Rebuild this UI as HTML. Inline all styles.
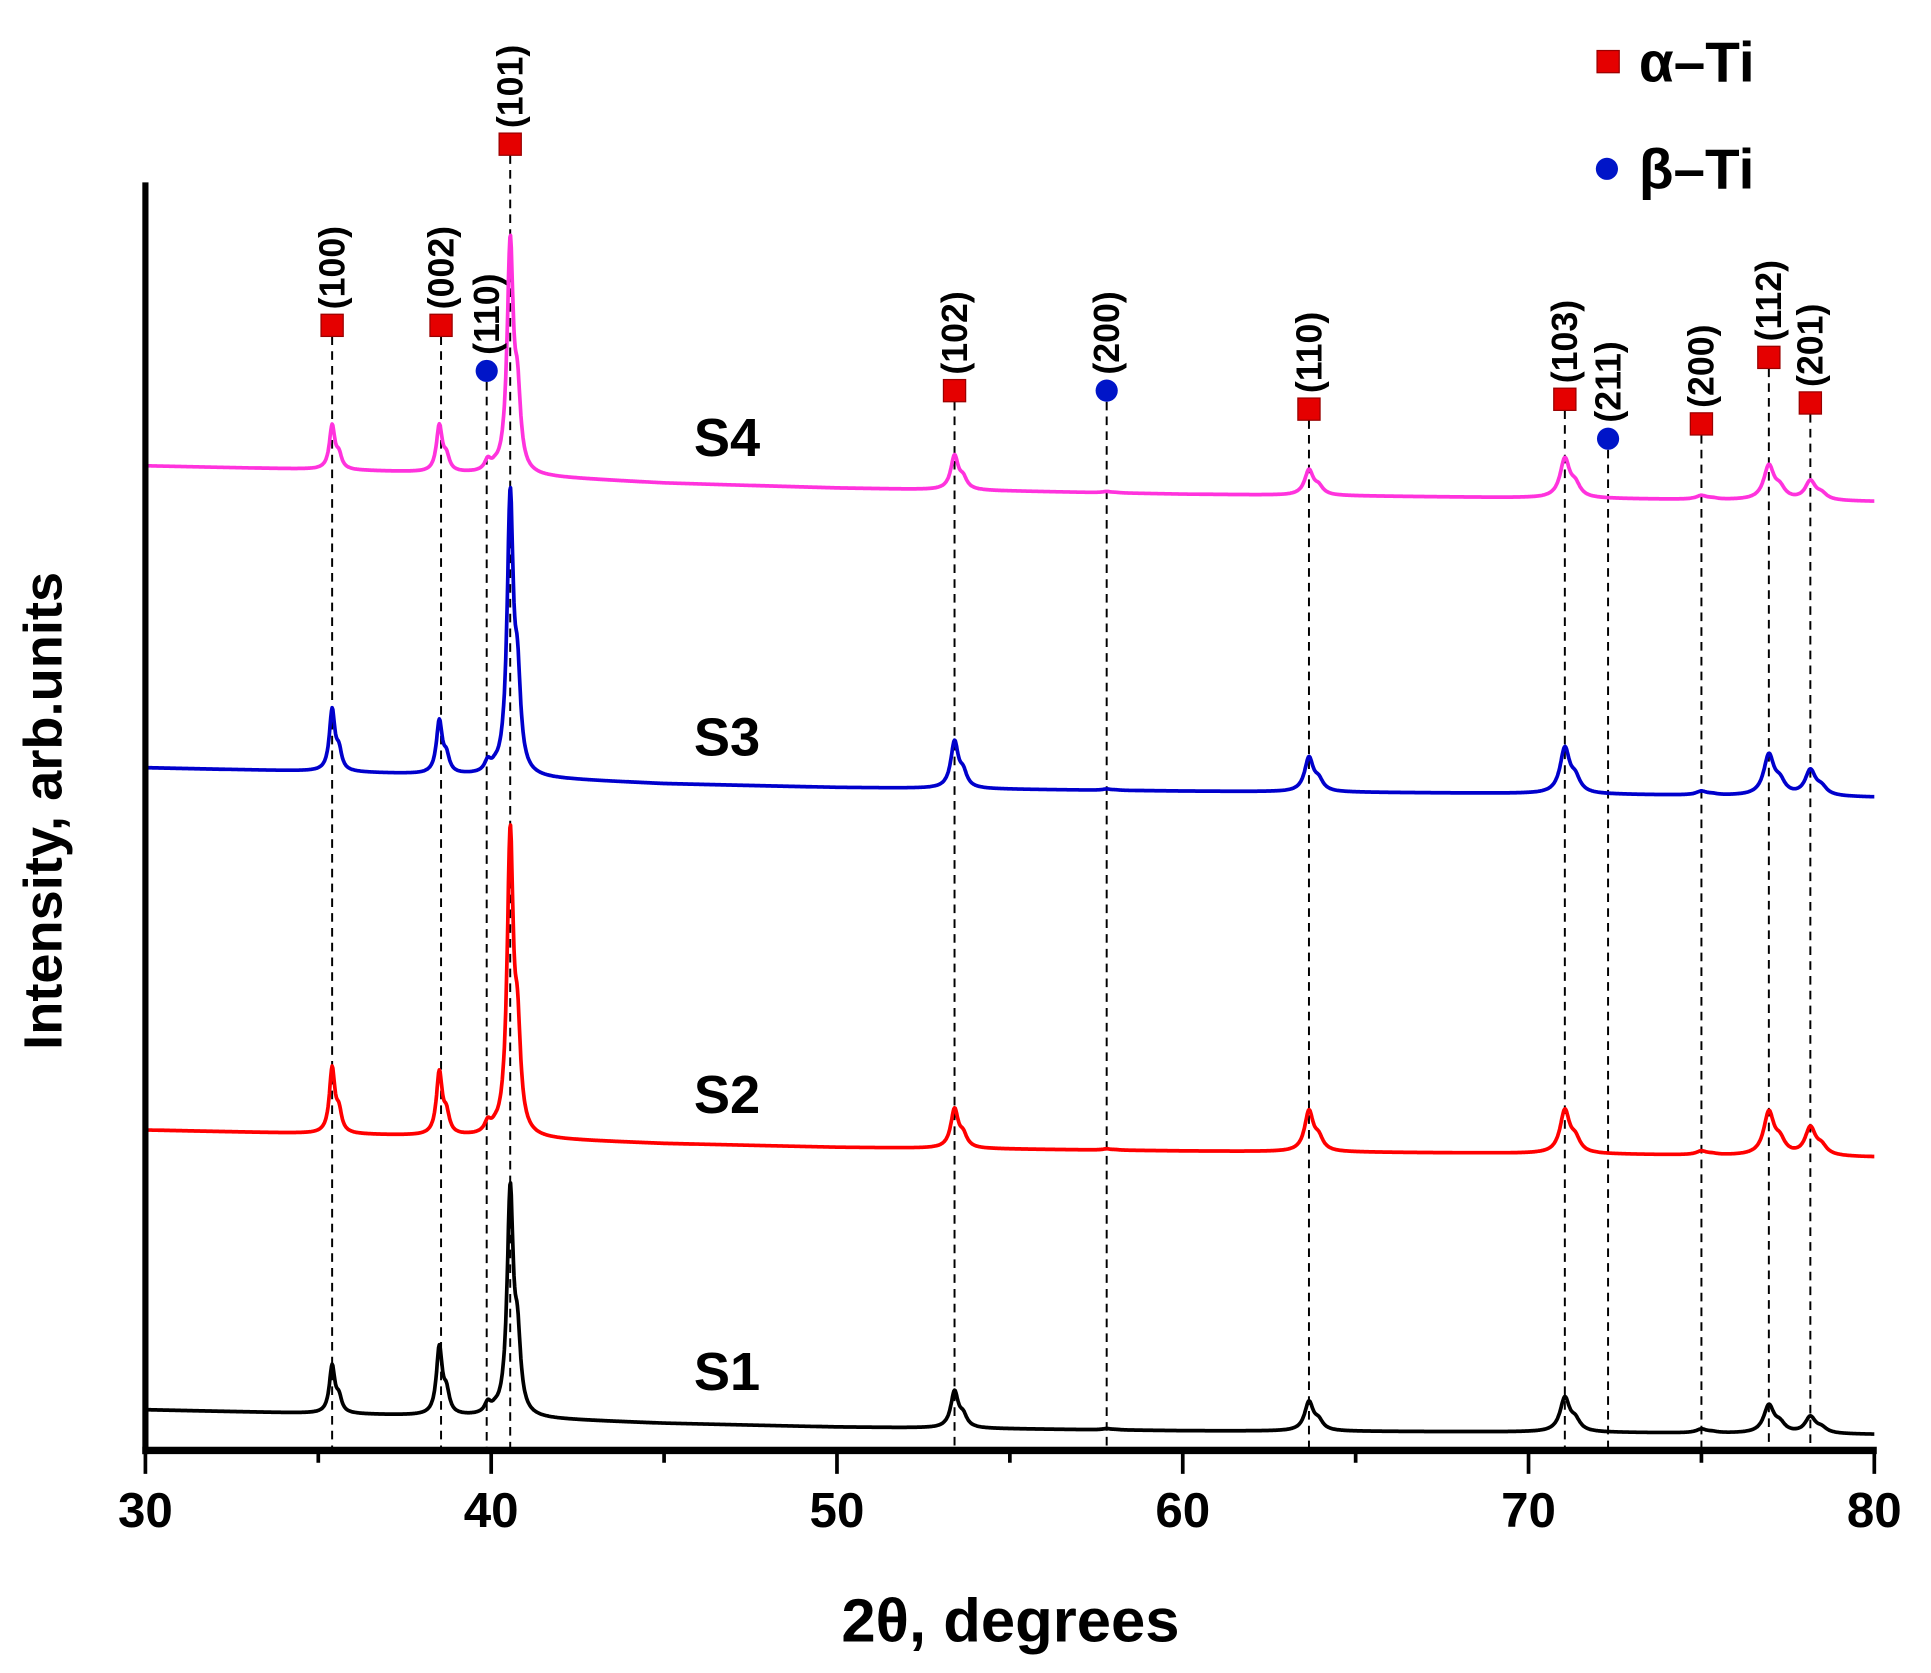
<!DOCTYPE html>
<html><head><meta charset="utf-8"><style>
html,body{margin:0;padding:0;background:#fff;}
svg{display:block;font-family:"Liberation Sans",sans-serif;font-weight:bold;}
</style></head><body>
<svg id="chart" width="1931" height="1673" viewBox="0 0 1567 1357.6" preserveAspectRatio="none" xmlns="http://www.w3.org/2000/svg">
<g id="refs"></g>
<g id="series"></g>
<g id="axes"></g>
<g id="marks"></g>
<text x="820" y="1332" font-size="50" text-anchor="middle">2θ, degrees</text>
<text transform="translate(50,658) rotate(-90)" font-size="44" text-anchor="middle">Intensity, arb.units</text>
<g>
<rect x="1296" y="41" width="18" height="18" fill="#e50000" stroke="#900" stroke-width="1"/>
<text x="1330" y="66" font-size="46">α–Ti</text>
<circle cx="1304" cy="137" r="9" fill="#0015c8"/>
<text x="1330" y="153" font-size="46">β–Ti</text>
</g>
</svg>
<script>
// ---- data ----
const peakPos   = [35.4, 38.5, 39.9, 40.55, 53.4, 57.8, 63.65, 71.05, 75.0, 76.95, 78.15];
const s1Heights = [38, 54, 8, 180, 29, 1, 23, 27, 3, 22, 13];
const s2Heights = [52, 50, 8, 240, 31, 1, 32, 34, 3, 34, 22];
const s3Heights = [49, 42, 8, 222, 37, 1, 27, 36, 3, 32, 20];
const s4Heights = [35, 37, 8, 184, 27, 1, 20, 31, 3, 27, 15];
const baseX     = [30, 35, 40, 45, 50, 60, 70, 80];
const s1Base    = [33, 30, 27, 22, 19, 16, 15, 13];
const s2Base    = [260, 257, 254, 249, 246, 243, 241, 238];
const s3Base    = [554, 551, 547, 541, 538, 535, 533, 530];
const s4Base    = [799, 796, 792, 785, 781, 776, 773, 770];
const seriesNames = ["S1", "S2", "S3", "S4"];
const seriesColors = ["#000000", "#ff0000", "#0000cc", "#ff33dd"];
const seriesLabelI = [65, 290, 580, 823];
const xTicks = [30, 40, 50, 60, 70, 80];
const xMinorTicks = [35, 45, 55, 65, 75];
const markerPos   = [35.4, 38.55, 39.87, 40.55, 53.4, 57.8, 63.65, 71.05, 72.3, 75.0, 76.95, 78.15];
const markerType  = ["a","a","b","a","a","b","a","a","b","a","a","a"];
const markerHkl   = ["(100)","(002)","(110)","(101)","(102)","(200)","(110)","(103)","(211)","(200)","(112)","(201)"];
const markerI     = [913, 913, 876, 1060, 860, 860, 845, 853, 821, 833, 887, 850];

const NS = "http://www.w3.org/2000/svg";
const X0 = 118, X1 = 1521, Y0 = 1177;
const xs = d => X0 + (d - 30) / 50 * (X1 - X0);
const ys = i => Y0 - i;
function mk(tag, attrs, parent){const e=document.createElementNS(NS,tag);for(const k in attrs)e.setAttribute(k,attrs[k]);parent.appendChild(e);return e;}
function interp(x, xa, ya){for(let i=0;i<xa.length-1;i++){if(x<=xa[i+1]){const t=(x-xa[i])/(xa[i+1]-xa[i]);return ya[i]+t*(ya[i+1]-ya[i]);}}return ya[ya.length-1];}
function intensity(d, heights, base){
  let v = interp(d, baseX, base);
  for(let k=0;k<peakPos.length;k++){
    const g = 0.085 + (peakPos[k]-30)*0.002;
    const dx1 = (d-peakPos[k])/g, dx2 = (d-peakPos[k]-0.18-(peakPos[k]-30)*0.003)/g;
    v += heights[k]/(1+dx1*dx1) + 0.3*heights[k]/(1+dx2*dx2);
  }
  return v;
}
const refs=document.getElementById('refs'), marks=document.getElementById('marks');
for(let i=0;i<markerPos.length;i++){
  const x=xs(markerPos[i]), y=ys(markerI[i]);
  const l=mk('line',{x1:x,y1:y+9,x2:x,y2:Y0,stroke:'#000','stroke-width':1.6,'stroke-dasharray':'7,5'},refs);
  
  
  let m;
  if(markerType[i]==='a'){m=mk('rect',{x:x-9,y:y-9,width:18,height:18,fill:'#e50000',stroke:'#900','stroke-width':1},marks);}
  else{m=mk('circle',{cx:x,cy:y,r:9,fill:'#0015c8'},marks);}
  
  
  const t=mk('text',{transform:`translate(${x+10},${y-13}) rotate(-90)`,'font-size':29},marks);
  t.textContent=markerHkl[i];
  
  
}
const sg=document.getElementById('series');
const allH=[s1Heights,s2Heights,s3Heights,s4Heights], allB=[s1Base,s2Base,s3Base,s4Base];
for(let s=0;s<4;s++){
  let dstr='';
  for(let d=30;d<=80.0001;d+=0.02){dstr+=(dstr?'L':'M')+xs(d).toFixed(1)+','+ys(intensity(d,allH[s],allB[s])).toFixed(1);}
  const p=mk('path',{d:dstr,fill:'none',stroke:seriesColors[s],'stroke-width':3,'stroke-linejoin':'round'},sg);
  
  
  const t=mk('text',{x:590,y:ys(seriesLabelI[s])+16,'font-size':44,'text-anchor':'middle'},sg);
  t.textContent=seriesNames[s];
  
  
}
const ax=document.getElementById('axes');
const ya=mk('line',{x1:X0,y1:148,x2:X0,y2:Y0+3,stroke:'#000','stroke-width':5},ax);


const xa=mk('line',{x1:X0-2.5,y1:Y0,x2:X1+2,y2:Y0,stroke:'#000','stroke-width':6},ax);


xTicks.forEach(v=>{
  const l=mk('line',{x1:xs(v),y1:Y0,x2:xs(v),y2:Y0+19,stroke:'#000','stroke-width':3},ax);
  
  
  const t=mk('text',{x:xs(v),y:Y0+62,'font-size':40,'text-anchor':'middle'},ax);
  t.textContent=v;
  
  
});
xMinorTicks.forEach(v=>{
  const l=mk('line',{x1:xs(v),y1:Y0,x2:xs(v),y2:Y0+10,stroke:'#000','stroke-width':3},ax);
  
  
});
</script>
</body></html>
